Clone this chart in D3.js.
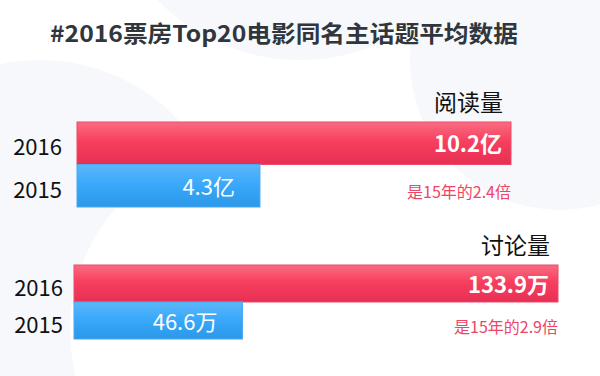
<!DOCTYPE html>
<html lang="zh">
<head>
<meta charset="UTF-8">
<title>2016票房Top20电影同名主话题平均数据</title>
<script src="https://cdn.jsdelivr.net/npm/d3@7"></script>
<style>
  html, body { margin: 0; padding: 0; background: #fff; }
  svg { display: block; }
  text { font-family: "Noto Sans CJK SC", "Noto Sans", sans-serif; }
</style>
</head>
<body>
<svg width="600" height="376"></svg>
<script>
// 数据
var years = ["2016", "2015"];
var metrics = ["阅读量", "讨论量"];
var values2016 = [10.2, 133.9];
var values2015 = [4.3, 46.6];
var units = ["亿", "万"];
var ratioNotes = ["是15年的2.4倍", "是15年的2.9倍"];
var title = "#2016票房Top20电影同名主话题平均数据";

var width = 600, height = 376;
var svg = d3.select("svg");

// 背景的浅色圆
var bg = svg.append("g");
bg.append("rect").attr("width", width).attr("height", height).attr("fill", "#fff");
[[40, 250, 190], [560, 60, 150], [300, -140, 200]].forEach(function(c) {
  bg.append("circle").attr("cx", c[0]).attr("cy", c[1]).attr("r", c[2])
    .attr("fill", "#f6f8fb");
});
bg.append("circle").attr("cx", 255).attr("cy", 330).attr("r", 185).attr("fill", "#fff");

// 渐变
var defs = svg.append("defs");
function grad(id, stops) {
  var g = defs.append("linearGradient").attr("id", id)
    .attr("x1", 0).attr("y1", 0).attr("x2", 0).attr("y2", 1);
  stops.forEach(function(s) {
    g.append("stop").attr("offset", s[0]).attr("stop-color", s[1]);
  });
}
grad("redGrad", [[0, "#f96c82"], [0.45, "#f7405f"], [1, "#e62f54"]]);
grad("blueGrad", [[0, "#5db7f9"], [0.45, "#3aa9fb"], [1, "#2b98e8"]]);

// 标题
svg.append("text")
  .attr("x", 50).attr("y", 42)
  .attr("textLength", 468).attr("lengthAdjust", "spacingAndGlyphs")
  .attr("font-size", 23).attr("font-weight", 700)
  .attr("fill", "#30363c")
  .text(title);

// 两个面板的位置
var panels = [
  {left: 77, right: 511, top: 122, bottom: 207, labelX: 62},
  {left: 74, right: 558, top: 265, bottom: 339, labelX: 63}
];

metrics.forEach(function(m, i) {
  var p = panels[i];
  var vals = [values2016[i], values2015[i]];
  var x = d3.scaleLinear().domain([0, values2016[i]]).range([p.left, p.right]);
  var y = d3.scaleBand().domain(years).range([p.top, p.bottom]).padding(0);
  var g = svg.append("g");

  // 指标名
  g.append("text")
    .attr("x", p.right - 8).attr("y", p.top - 11)
    .attr("text-anchor", "end")
    .attr("font-size", 23).attr("fill", "#111")
    .text(m);

  // 条形
  g.selectAll("rect.bar").data(years).enter().append("rect")
    .attr("class", "bar")
    .attr("x", x(0))
    .attr("y", function(d) { return y(d); })
    .attr("width", function(d, j) { return x(vals[j]) - x(0); })
    .attr("height", y.bandwidth())
    .attr("fill", function(d, j) { return j === 0 ? "url(#redGrad)" : "url(#blueGrad)"; })
    .attr("stroke", function(d, j) { return j === 0 ? "#ee4a68" : "#4aa8f2"; })
    .attr("stroke-width", 1);

  // 年份
  g.selectAll("text.year").data(years).enter().append("text")
    .attr("class", "year")
    .attr("x", p.labelX)
    .attr("y", function(d) { return y(d) + y.bandwidth() / 2 + 12; })
    .attr("text-anchor", "end")
    .attr("font-family", "'Liberation Sans', sans-serif")
    .attr("font-size", 22).attr("fill", "#111")
    .text(function(d) { return d; });

  // 数值
  g.selectAll("text.val").data(years).enter().append("text")
    .attr("class", "val")
    .attr("x", function(d, j) { return x(vals[j]) - (j === 0 ? 9 : 25); })
    .attr("y", function(d) { return y(d) + y.bandwidth() / 2 + 9; })
    .attr("text-anchor", "end")
    .attr("font-size", 22)
    .attr("font-weight", function(d, j) { return j === 0 ? 700 : 400; })
    .attr("fill", "#fff")
    .text(function(d, j) { return vals[j] + units[i]; });

  // 倍数说明
  g.append("text")
    .attr("x", p.right).attr("y", y("2015") + y.bandwidth() / 2 + 12)
    .attr("text-anchor", "end")
    .attr("font-size", 16).attr("fill", "#ee4466")
    .text(ratioNotes[i]);
});
</script>
</body>
</html>
